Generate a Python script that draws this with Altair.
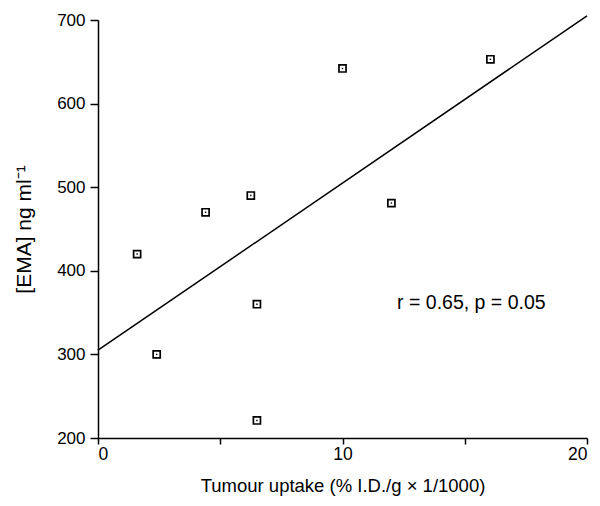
import altair as alt
import pandas as pd

uptake = [1.6, 2.4, 4.4, 6.25, 6.5, 6.5, 10.0, 12.0, 16.05]
ema = [420, 300, 470, 490, 360, 221, 642, 481, 653]
fit_x = [0, 20]
fit_y = [305, 705]
ann_x = [15.27]
ann_y = [362]
ann_text = ["r = 0.65, p = 0.05"]

pts = pd.DataFrame({"x": uptake, "y": ema})
fit = pd.DataFrame({"x": fit_x, "y": fit_y})
ann = pd.DataFrame({"x": ann_x, "y": ann_y, "t": ann_text})

FONT = "Liberation Sans"
xs = alt.Scale(domain=[0, 20], nice=False, zero=False)
ys = alt.Scale(domain=[200, 700], nice=False, zero=False)

xaxis = alt.Axis(
    values=[0, 5, 10, 15, 20],
    labelExpr="datum.value % 10 == 0 ? datum.label : ''",
    title="Tumour uptake (% I.D./g × 1/1000)",
    grid=False, tickSize=6, labelPadding=1, titlePadding=14,
    labelFontSize=17.5, titleFontSize=18.5, labelFont=FONT, titleFont=FONT,
    labelColor="black", titleColor="black", titleFontWeight="normal",
    domainColor="black", tickColor="black", domainWidth=1.5, tickWidth=1.5,
)
yaxis = alt.Axis(
    values=[200, 300, 400, 500, 600, 700],
    title="[EMA] ng ml⁻¹",
    grid=False, tickSize=8, labelPadding=5, titlePadding=22,
    labelFontSize=17, titleFontSize=21, labelFont=FONT, titleFont=FONT,
    labelColor="black", titleColor="black", titleFontWeight="normal",
    domainColor="black", tickColor="black", domainWidth=1.5, tickWidth=1.5,
)

line = alt.Chart(fit).mark_line(color="black", strokeWidth=1.5, clip=False).encode(
    x=alt.X("x:Q", scale=xs, axis=xaxis),
    y=alt.Y("y:Q", scale=ys, axis=yaxis),
)
sq = alt.Chart(pts).mark_square(filled=False, color="black", size=50, strokeWidth=1.7, opacity=1).encode(
    x=alt.X("x:Q", scale=xs), y=alt.Y("y:Q", scale=ys)
)
dot = alt.Chart(pts).mark_square(filled=True, color="black", size=2, opacity=1).encode(
    x=alt.X("x:Q", scale=xs), y=alt.Y("y:Q", scale=ys)
)
txt = alt.Chart(ann).mark_text(font=FONT, fontSize=19.5, color="black", align="center", baseline="middle").encode(
    x=alt.X("x:Q", scale=xs), y=alt.Y("y:Q", scale=ys), text="t:N"
)

chart = alt.layer(line, sq, dot, txt).properties(
    width=489, height=418,
    autosize=alt.AutoSizeParams(type="none"),
    padding={"left": 90, "top": 12, "right": 5, "bottom": 60},
    background="white",
).configure_view(stroke=None)

chart.save("out.html", embed_options={"renderer": "svg", "actions": False})
